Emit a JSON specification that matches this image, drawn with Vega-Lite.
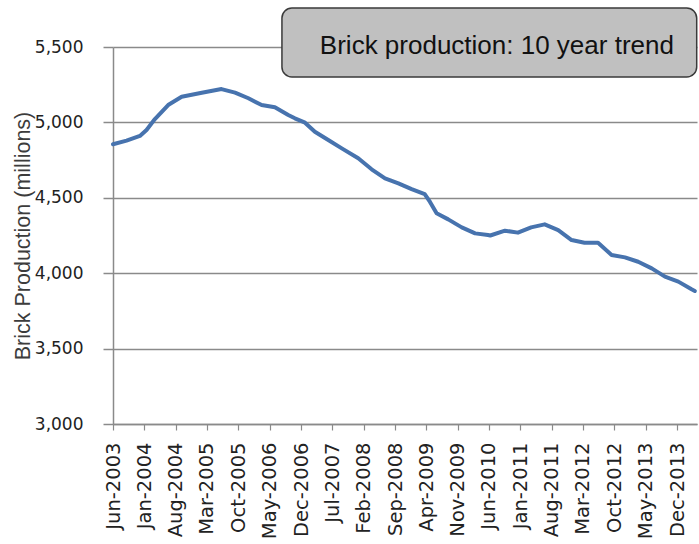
{
  "$schema": "https://vega.github.io/schema/vega-lite/v6.json",
  "autosize": "none",
  "width": 584,
  "height": 377,
  "padding": {"left": 113, "top": 47, "right": 2, "bottom": 120},
  "background": "white",
  "config": {"view": {"stroke": null}},
  "layer": [
    {
      "data": {"values": [
        {"date": "2003-06-01", "production": 4855},
        {"date": "2003-09-01", "production": 4879},
        {"date": "2003-12-01", "production": 4910},
        {"date": "2004-01-15", "production": 4950},
        {"date": "2004-03-12", "production": 5022},
        {"date": "2004-06-10", "production": 5115},
        {"date": "2004-09-10", "production": 5170},
        {"date": "2005-01-25", "production": 5197},
        {"date": "2005-06-08", "production": 5221},
        {"date": "2005-09-08", "production": 5197},
        {"date": "2005-12-08", "production": 5160},
        {"date": "2006-03-08", "production": 5115},
        {"date": "2006-06-06", "production": 5100},
        {"date": "2006-09-05", "production": 5049},
        {"date": "2006-10-20", "production": 5027},
        {"date": "2006-12-28", "production": 4998},
        {"date": "2007-03-05", "production": 4938},
        {"date": "2007-06-04", "production": 4883},
        {"date": "2007-09-04", "production": 4828},
        {"date": "2007-12-25", "production": 4762},
        {"date": "2008-03-25", "production": 4689},
        {"date": "2008-06-24", "production": 4629},
        {"date": "2008-09-23", "production": 4596},
        {"date": "2008-12-22", "production": 4558},
        {"date": "2009-03-21", "production": 4525},
        {"date": "2009-04-25", "production": 4474},
        {"date": "2009-06-10", "production": 4397},
        {"date": "2009-08-28", "production": 4357},
        {"date": "2009-11-28", "production": 4304},
        {"date": "2010-02-27", "production": 4264},
        {"date": "2010-05-25", "production": 4253},
        {"date": "2010-06-10", "production": 4250},
        {"date": "2010-09-18", "production": 4282},
        {"date": "2010-12-15", "production": 4269},
        {"date": "2011-03-15", "production": 4304},
        {"date": "2011-06-15", "production": 4324},
        {"date": "2011-09-15", "production": 4286},
        {"date": "2011-12-15", "production": 4220},
        {"date": "2012-03-12", "production": 4202},
        {"date": "2012-06-12", "production": 4202},
        {"date": "2012-09-12", "production": 4121},
        {"date": "2012-12-12", "production": 4105},
        {"date": "2013-03-12", "production": 4076},
        {"date": "2013-06-12", "production": 4032},
        {"date": "2013-09-10", "production": 3977},
        {"date": "2013-12-10", "production": 3944},
        {"date": "2014-03-10", "production": 3893},
        {"date": "2014-04-01", "production": 3882}
      ]},
      "mark": {"type": "line", "color": "#4773ae", "strokeWidth": 4, "strokeJoin": "round", "strokeCap": "round"},
      "encoding": {
        "x": {
          "field": "date",
          "type": "temporal",
          "scale": {"type": "utc", "domain": [{"year": 2003, "month": 6, "date": 1, "utc": true}, {"year": 2014, "month": 4, "date": 16, "utc": true}], "nice": false},
          "axis": {
            "title": null,
            "values": [
              {"year": 2003, "month": 6, "date": 1, "utc": true},
              {"year": 2004, "month": 1, "date": 1, "utc": true},
              {"year": 2004, "month": 8, "date": 1, "utc": true},
              {"year": 2005, "month": 3, "date": 1, "utc": true},
              {"year": 2005, "month": 10, "date": 1, "utc": true},
              {"year": 2006, "month": 5, "date": 1, "utc": true},
              {"year": 2006, "month": 12, "date": 1, "utc": true},
              {"year": 2007, "month": 7, "date": 1, "utc": true},
              {"year": 2008, "month": 2, "date": 1, "utc": true},
              {"year": 2008, "month": 9, "date": 1, "utc": true},
              {"year": 2009, "month": 4, "date": 1, "utc": true},
              {"year": 2009, "month": 11, "date": 1, "utc": true},
              {"year": 2010, "month": 6, "date": 1, "utc": true},
              {"year": 2011, "month": 1, "date": 1, "utc": true},
              {"year": 2011, "month": 8, "date": 1, "utc": true},
              {"year": 2012, "month": 3, "date": 1, "utc": true},
              {"year": 2012, "month": 10, "date": 1, "utc": true},
              {"year": 2013, "month": 5, "date": 1, "utc": true},
              {"year": 2013, "month": 12, "date": 1, "utc": true}
            ],
            "tickCount": 40,
            "labelExpr": "utcFormat(datum.value, '%b-%Y')",
            "labelAngle": 270,
            "labelAlign": "right",
            "labelBaseline": "middle",
            "labelFont": "DejaVu Sans",
            "labelFontSize": 19.5,
            "labelColor": "#222222",
            "labelPadding": 12,
            "labelOverlap": false,
            "labelFlush": false,
            "tickSize": 6,
            "tickColor": "#8a8a8a",
            "tickWidth": 1.2,
            "domainColor": "#8a8a8a",
            "domainWidth": 1.5,
            "grid": false
          }
        },
        "y": {
          "field": "production",
          "type": "quantitative",
          "scale": {"domain": [3000, 5500], "nice": false, "zero": false},
          "axis": {
            "title": "Brick Production (millions)",
            "titleFont": "Liberation Sans",
            "titleFontSize": 21.5,
            "titleFontWeight": "normal",
            "titleColor": "#3c3c3c",
            "titleX": -90,
            "titleY": 188.5,
            "titleAngle": 270,
            "titleAlign": "center",
            "titleBaseline": "middle",
            "values": [3000, 3500, 4000, 4500, 5000, 5500],
            "format": ",.0f",
            "labelFont": "DejaVu Sans",
            "labelFontSize": 17,
            "labelColor": "#222222",
            "labelPadding": 20,
            "tickSize": 10,
            "tickColor": "#8a8a8a",
            "tickWidth": 1.5,
            "domainColor": "#8a8a8a",
            "domainWidth": 1.5,
            "grid": true,
            "gridColor": "#8a8a8a",
            "gridWidth": 1.5
          }
        }
      }
    },
    {
      "data": {"values": [{}]},
      "mark": {"type": "rect", "fill": "#c0c0c0", "stroke": "#3a3a3a", "strokeWidth": 1.5, "cornerRadius": 10},
      "encoding": {
        "x": {"datum": {"year": 2006, "month": 7, "date": 24, "utc": true}, "type": "temporal"},
        "x2": {"datum": {"year": 2014, "month": 4, "date": 14, "utc": true}},
        "y": {"datum": 5758, "type": "quantitative"},
        "y2": {"datum": 5301}
      }
    },
    {
      "data": {"values": [{}]},
      "mark": {"type": "text", "font": "Liberation Sans", "fontSize": 26, "color": "#111111", "align": "center", "baseline": "middle"},
      "encoding": {
        "x": {"datum": {"year": 2010, "month": 7, "date": 25, "utc": true}, "type": "temporal"},
        "y": {"datum": 5506, "type": "quantitative"},
        "text": {"value": "Brick production: 10 year trend"}
      }
    }
  ]
}
